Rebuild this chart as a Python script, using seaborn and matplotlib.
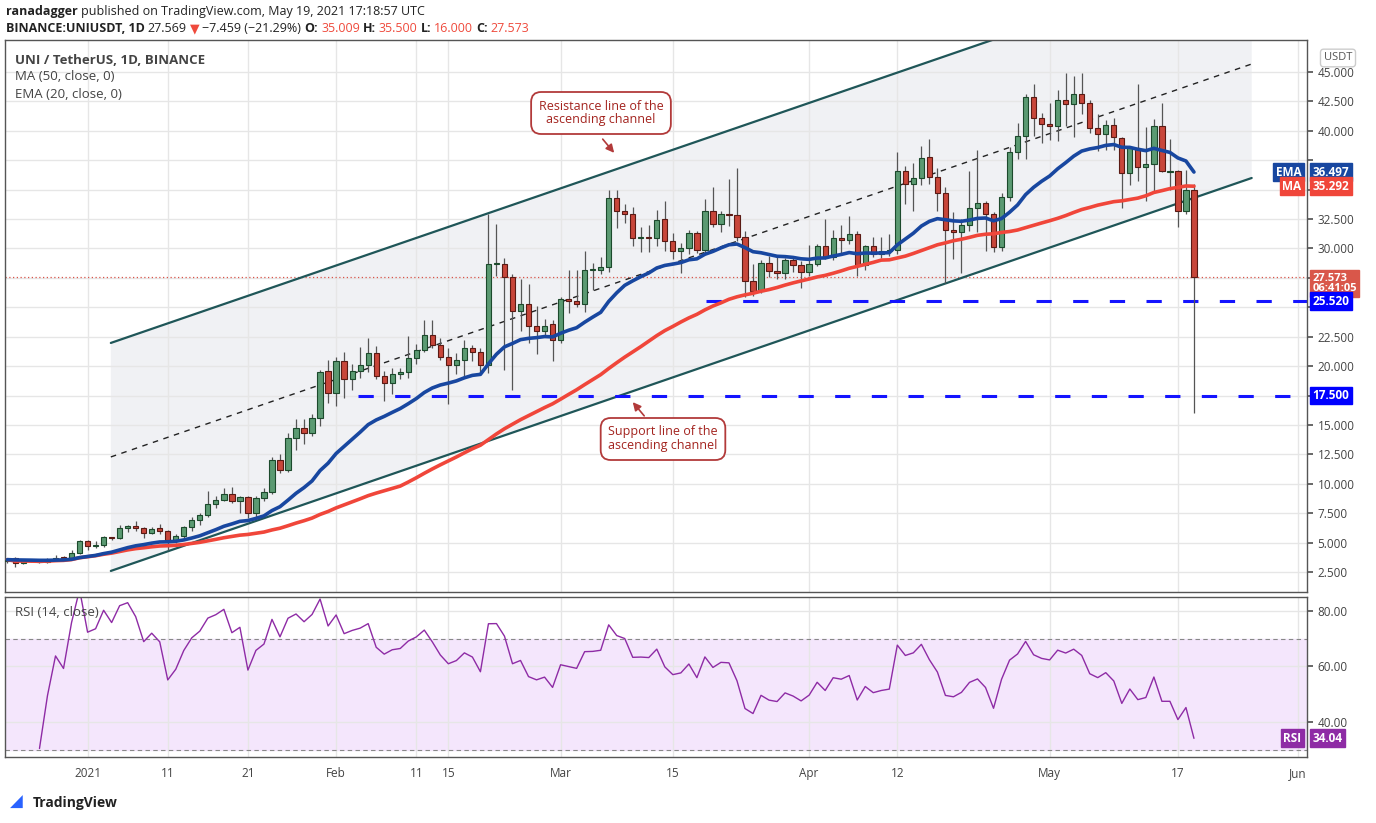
import numpy as np
import pandas as pd
import matplotlib
matplotlib.use("Agg")
import matplotlib.pyplot as plt
import seaborn as sns
from matplotlib.patches import Rectangle, Polygon

# daily candles, 22 Dec 2020 .. 19 May 2021
opens = [3.45, 3.7, 3.25, 3.5, 3.4, 3.35, 3.5, 3.75, 3.65, 4.1, 5.1, 4.7, 4.8, 5.45, 5.4, 6.2, 6.4, 6.2, 5.8, 6.2,
         6.0, 5.2, 5.55, 6.3, 6.95, 7.35, 8.3, 8.6, 9.1, 8.5, 8.9, 7.5, 8.8, 9.3, 12.0, 11.2, 13.9, 14.7, 14.3, 15.6,
         19.6, 17.7, 20.4, 18.9, 19.6, 20.1, 21.1, 19.2, 18.6, 19.3, 19.5, 20.7, 21.4, 22.65, 21.8, 20.8, 20.1, 20.5, 21.5, 21.2,
         20.1, 28.7, 28.7, 27.6, 24.7, 25.3, 23.4, 23.0, 23.6, 22.2, 25.7, 25.5, 25.3, 28.2, 28.2, 28.4, 34.3, 33.2, 32.9, 30.85,
         31.0, 30.9, 32.5, 30.6, 29.75, 30.0, 31.3, 29.9, 33.2, 32.05, 32.9, 32.85, 31.0, 27.2, 26.4, 28.8, 28.1, 27.9, 29.0, 28.6,
         28.0, 28.65, 30.2, 29.3, 30.9, 30.75, 31.2, 28.6, 30.2, 29.5, 29.75, 29.9, 36.6, 35.5, 36.0, 37.75, 36.1, 34.7, 31.6, 31.4,
         32.0, 33.4, 33.9, 32.9, 30.1, 34.35, 38.17, 39.6, 42.9, 41.1, 40.6, 40.4, 42.6, 42.25, 43.1, 42.4, 40.2, 39.7, 40.5, 39.4,
         36.4, 38.5, 36.9, 37.2, 40.4, 36.5, 36.6, 33.2, 35.009]
highs = [3.6, 3.75, 3.5, 3.6, 3.5, 3.7, 3.95, 3.85, 4.4, 5.2, 5.2, 5.1, 5.6, 5.5, 6.5, 6.5, 6.8, 6.3, 6.3, 6.6,
         6.1, 5.7, 6.4, 7.2, 7.5, 9.4, 9.0, 9.6, 9.7, 9.0, 9.0, 9.0, 9.6, 12.3, 12.5, 14.3, 15.5, 15.5, 15.9, 19.7,
         20.5, 20.8, 21.2, 20.2, 21.6, 22.4, 21.7, 19.6, 19.8, 19.8, 22.6, 21.9, 23.9, 23.9, 22.4, 21.5, 21.1, 22.2, 21.8, 21.5,
         32.9, 32.1, 29.2, 27.8, 27.4, 26.95, 25.1, 24.0, 23.9, 25.9, 28.2, 28.2, 29.8, 28.8, 29.3, 35.0, 35.0, 33.8, 33.5, 31.8,
         32.0, 33.3, 34.0, 31.3, 30.5, 31.6, 31.5, 34.2, 35.2, 33.2, 35.9, 36.8, 31.5, 28.7, 29.0, 29.4, 29.4, 29.2, 29.2, 28.9,
         30.3, 30.4, 32.5, 31.6, 32.0, 32.8, 31.5, 30.3, 31.0, 31.0, 31.2, 38.2, 37.0, 37.3, 38.7, 39.3, 36.8, 35.2, 33.1, 32.5,
         36.6, 38.4, 34.0, 33.1, 34.7, 38.6, 40.7, 43.1, 44.0, 41.5, 42.4, 43.5, 44.9, 44.7, 44.9, 42.6, 41.4, 40.9, 41.1, 39.5,
         38.6, 44.0, 40.3, 41.0, 42.4, 39.3, 36.7, 36.7, 35.5]
lows = [3.3, 2.95, 3.15, 3.35, 3.3, 3.3, 3.45, 3.55, 3.6, 4.0, 4.4, 4.5, 4.6, 5.2, 5.3, 5.9, 6.0, 5.4, 5.7, 5.7,
        4.4, 5.0, 5.3, 6.0, 6.5, 7.2, 7.9, 8.5, 8.4, 7.5, 7.1, 7.2, 8.5, 9.1, 10.9, 11.0, 12.9, 13.4, 14.1, 14.9,
        16.9, 16.6, 17.3, 18.0, 19.0, 19.5, 18.9, 17.0, 17.6, 18.9, 19.0, 20.2, 21.2, 21.5, 20.5, 16.8, 19.3, 19.1, 20.4, 19.4,
        19.4, 27.7, 19.7, 18.0, 23.0, 22.0, 21.0, 22.5, 20.4, 22.0, 24.5, 25.0, 24.6, 26.5, 27.8, 28.0, 31.7, 32.2, 30.2, 29.7,
        29.7, 30.2, 29.8, 29.1, 27.9, 29.5, 29.6, 29.5, 31.8, 31.4, 31.9, 30.6, 25.9, 26.0, 26.2, 27.6, 27.4, 27.4, 28.0, 26.6,
        27.7, 28.5, 29.1, 29.0, 29.6, 30.4, 27.7, 28.2, 29.3, 29.2, 29.4, 29.5, 33.8, 33.2, 35.4, 35.5, 33.2, 27.1, 29.1, 27.9,
        31.5, 31.4, 29.8, 29.7, 29.8, 34.0, 37.6, 37.6, 39.6, 39.0, 39.2, 39.1, 40.4, 39.5, 41.4, 39.8, 38.3, 38.4, 38.4, 33.4,
        35.4, 35.7, 34.0, 34.7, 36.5, 35.0, 31.8, 32.9, 16.0]
closes = [3.55, 3.3, 3.45, 3.4, 3.35, 3.5, 3.7, 3.65, 4.1, 5.1, 4.7, 4.8, 5.5, 5.35, 6.2, 6.4, 6.2, 5.8, 6.15, 6.0,
          5.2, 5.55, 6.3, 6.95, 7.35, 8.3, 8.6, 9.1, 8.5, 8.9, 7.5, 8.8, 9.3, 12.0, 11.2, 13.9, 14.7, 14.3, 15.6, 19.5,
          17.7, 20.4, 18.9, 19.6, 20.1, 21.1, 19.2, 18.6, 19.3, 19.5, 20.7, 21.4, 22.65, 21.8, 20.8, 20.1, 20.5, 21.5, 21.2, 20.1,
          28.7, 28.75, 27.6, 24.7, 25.3, 23.4, 23.0, 23.4, 22.2, 25.7, 25.5, 25.3, 28.2, 28.25, 28.45, 34.3, 33.2, 32.9, 30.9, 30.95,
          30.9, 32.4, 30.6, 29.75, 30.0, 31.3, 29.9, 33.2, 32.05, 32.9, 32.85, 30.95, 27.2, 26.4, 28.8, 28.1, 27.9, 29.0, 28.6, 28.0,
          28.65, 30.2, 29.3, 30.9, 30.75, 31.2, 28.6, 30.2, 29.5, 29.75, 29.9, 36.6, 35.5, 36.0, 37.7, 36.1, 34.7, 31.6, 31.4, 32.0,
          33.4, 33.9, 32.9, 30.1, 34.35, 38.17, 39.6, 42.9, 41.1, 40.6, 40.4, 42.6, 42.25, 43.1, 42.4, 40.2, 39.7, 40.5, 39.5, 36.4,
          38.5, 36.9, 37.2, 40.4, 36.6, 36.6, 33.2, 35.0, 27.573]

dates = pd.date_range("2020-12-22", periods=len(closes), freq="D")
tick_dates = ["2021-01-01", "2021-01-11", "2021-01-21", "2021-02-01", "2021-02-11", "2021-02-15", "2021-03-01",
              "2021-03-15", "2021-04-01", "2021-04-12", "2021-05-01", "2021-05-17", "2021-06-01"]
tick_labels = ["2021", "11", "21", "Feb", "11", "15", "Mar", "15", "Apr", "12", "May", "17", "Jun"]

# channel drawing (bar index, price)
channel_x = [12.9, 155.2]
resistance_y = [21.97, 55.3]
support_y = [2.59, 35.99]
middle_y = [12.28, 45.68]
level_prices = [25.52, 17.5]
level_start = [87.1, 43.7]

df = pd.DataFrame({"date": dates, "open": opens, "high": highs, "low": lows, "close": closes})
df["i"] = np.arange(len(df))
df["ema"] = df["close"].ewm(span=20, adjust=False).mean()
df["ma"] = df["close"].rolling(50, min_periods=1).mean()
d = df["close"].diff()
gain = d.clip(lower=0).ewm(alpha=1 / 14, adjust=True, min_periods=4).mean()
loss = (-d.clip(upper=0)).ewm(alpha=1 / 14, adjust=True, min_periods=4).mean()
df["rsi"] = 100 - 100 / (1 + gain / loss)

sns.set_theme(style="white")
plt.rcParams["font.family"] = ["Open Sans", "DejaVu Sans"]

W, H = 1376, 823
fig = plt.figure(figsize=(W / 100, H / 100), dpi=100)
fig.patch.set_facecolor("white")
L, R = 5 / W, 1307 / W
ax = fig.add_axes([L, 1 - 592 / H, R - L, (592 - 40) / H])
ax2 = fig.add_axes([L, 1 - 757 / H, R - L, (757 - 597) / H], sharex=ax)

xmax = 162.1
ax.set_xlim(-0.3, xmax)
ax.set_ylim(0.8, 47.72)
ax2.set_ylim(27.3, 85.1)

tick_pos = [(pd.Timestamp(t) - dates[0]).days for t in tick_dates]
grid_c = "#e6e6e6"
for a in (ax, ax2):
    for s in a.spines.values():
        s.set_color("#555555")
        s.set_linewidth(1)
    a.yaxis.tick_right()
    a.tick_params(axis="y", direction="out", length=4, colors="#555555", labelsize=8.5, labelcolor="#444444")
    a.set_xticks(tick_pos)
    a.grid(True, color=grid_c, linewidth=1)
    a.set_axisbelow(True)
ax.tick_params(axis="x", length=0, labelbottom=False)
ax2.set_xticklabels(tick_labels)
ax2.tick_params(axis="x", length=4, colors="#555555", labelsize=8.5, labelcolor="#444444", pad=3)

# tick labels hidden behind the price tags on the right are left blank
price_ticks = np.arange(2.5, 45.01, 2.5)
hidden = [37.5, 35.0, 27.5, 25.0, 17.5]
ax.set_yticks(price_ticks)
ax.set_yticklabels(["" if any(abs(v - h) < 1e-6 for h in hidden) else f"{v:.3f}" for v in price_ticks])
ax2.set_yticks([40, 60, 80])
ax2.set_yticklabels(["40.00", "60.00", "80.00"])

# channel area and lines
poly = Polygon([(channel_x[0], resistance_y[0]), (channel_x[1], resistance_y[1]),
                (channel_x[1], support_y[1]), (channel_x[0], support_y[0])],
               closed=True, facecolor="#f0f1f4", edgecolor="none", zorder=0.5)
ax.add_patch(poly)
teal = "#1f5658"
ax.plot(channel_x, resistance_y, color=teal, lw=1.6, zorder=2)
ax.plot(channel_x, support_y, color=teal, lw=1.6, zorder=2)
ax.plot(channel_x, middle_y, color="#222222", lw=1, ls=(0, (4, 4)), zorder=2)
for p, s in zip(level_prices, level_start):
    ax.plot([s, xmax], [p, p], color="#1414ff", lw=2.2, ls=(0, (5, 7)), zorder=2)
ax.axhline(closes[-1], color="#d9544a", lw=0.9, ls=(0, (1, 2)), zorder=1.5)

# candles
up_fill, up_edge = "#5b9a72", "#1c4a2c"
dn_fill, dn_edge = "#c8463a", "#5a1a14"
for r in df.itertuples():
    up = r.close >= r.open
    ax.vlines(r.i, r.low, r.high, color="#555555", lw=0.9, zorder=3)
    lo, hi = min(r.open, r.close), max(r.open, r.close)
    ax.add_patch(Rectangle((r.i - 0.33, lo), 0.66, max(hi - lo, 0.08),
                           facecolor=up_fill if up else dn_fill, edgecolor=up_edge if up else dn_edge,
                           lw=0.8, zorder=4))

sns.lineplot(x=df["i"], y=df["ma"], ax=ax, color="#f0463a", lw=2.6, zorder=5)
sns.lineplot(x=df["i"], y=df["ema"], ax=ax, color="#1847a0", lw=2.6, zorder=5)
ax.set_xlabel("")
ax.set_ylabel("")

# RSI pane
ax2.axhspan(30, 70, color="#f4e6fc", zorder=0)
ax2.axhline(70, color="#888888", lw=0.8, ls=(0, (4, 3)))
ax2.axhline(30, color="#888888", lw=0.8, ls=(0, (4, 3)))
sns.lineplot(x=df["i"], y=df["rsi"], ax=ax2, color="#8e2ba5", lw=1)
ax2.set_xlabel("")
ax2.set_ylabel("")


def tag(a, y, text, color, ha="left", fs=8.5):
    a.annotate(text, xy=(1.0, y), xycoords=("axes fraction", "data"), xytext=(4 if ha == "left" else -4, 0),
               textcoords="offset points", ha=ha, va="center", fontsize=fs, color="white", fontweight="bold",
               linespacing=0.95, bbox=dict(boxstyle="square,pad=0.2", fc=color, ec=color), zorder=10,
               annotation_clip=False)


tag(ax, df["ema"].iloc[-1], f"{df['ema'].iloc[-1]:.3f}", "#1847a0")
tag(ax, df["ema"].iloc[-1], "EMA", "#1847a0", ha="right")
tag(ax, df["ma"].iloc[-1], f"{df['ma'].iloc[-1]:.3f}", "#f0463a")
tag(ax, df["ma"].iloc[-1], "MA", "#f0463a", ha="right")
tag(ax, closes[-1] - 0.55, f"{closes[-1]:.3f}\n06:41:05", "#d9574a", fs=8)
for p in level_prices:
    tag(ax, p, f"{p:.3f}", "#0000ff")
tag(ax2, df["rsi"].iloc[-1], f"{df['rsi'].iloc[-1]:.2f}", "#8e2ba5")
tag(ax2, df["rsi"].iloc[-1], "RSI", "#8e2ba5", ha="right")
fig.text(1338 / W, 1 - 58 / H, "USDT", fontsize=8, color="#555555", ha="center", va="center",
         bbox=dict(boxstyle="round,pad=0.3", fc="white", ec="#cccccc"))

# callouts
box = dict(boxstyle="round,pad=0.6,rounding_size=0.8", fc="white", ec="#b23a3a", lw=1.3)
fig.text(601 / W, 1 - 113 / H, "Resistance line of the\nascending channel", fontsize=9, color="#a3231e",
         ha="center", va="center", linespacing=1.1, bbox=box, zorder=20)
ax.annotate("", xy=((615 - 7) / 8.01, 45 - (155 - 72) / 11.765), xytext=((600 - 7) / 8.01, 45 - (137 - 72) / 11.765),
            arrowprops=dict(arrowstyle="-|>", color="#b23a3a", lw=1.2), zorder=20)
fig.text(663 / W, 1 - 439 / H, "Support line of the\nascending channel", fontsize=9, color="#a3231e",
         ha="center", va="center", linespacing=1.1, bbox=box, zorder=20)
ax.annotate("", xy=((630 - 7) / 8.01, 45 - (400 - 72) / 11.765), xytext=((645 - 7) / 8.01, 45 - (418 - 72) / 11.765),
            arrowprops=dict(arrowstyle="-|>", color="#b23a3a", lw=1.2), zorder=20)

# header: pieces placed one after another
renderer = fig.canvas.get_renderer()


def run(y, x0, pieces, fs=9):
    x = x0
    for txt, col, bold in pieces:
        t = fig.text(x / W, 1 - y / H, txt, fontsize=fs, color=col, va="center",
                     fontweight="bold" if bold else "normal")
        x = t.get_window_extent(renderer).x1 + 3


red = "#ef4a3c"
dark = "#222222"
run(12, 6, [("ranadagger", dark, True), ("published on TradingView.com, May 19, 2021 17:18:57 UTC", dark, False)])
run(29, 6, [("BINANCE:UNIUSDT, 1D", dark, True), ("27.569", dark, False), ("▼", red, False),
            ("−7.459 (−21.29%)", dark, False), ("O:", dark, True), ("35.009", red, False), ("H:", dark, True),
            ("35.500", red, False), ("L:", dark, True), ("16.000", red, False), ("C:", dark, True), ("27.573", red, False)])
fig.text(15 / W, 1 - 60 / H, "UNI / TetherUS, 1D, BINANCE", fontsize=9.5, fontweight="bold", color="#444444", va="center")
fig.text(15 / W, 1 - 77 / H, "MA (50, close, 0)", fontsize=9.5, color="#444444", va="center")
fig.text(15 / W, 1 - 94 / H, "EMA (20, close, 0)", fontsize=9.5, color="#444444", va="center")
fig.text(15 / W, 1 - 612 / H, "RSI (14, close)", fontsize=9.5, color="#444444", va="center")
fig.text(10 / W, 1 - 803 / H, "◢", fontsize=12, color="#2962ff", va="center")
fig.text(33 / W, 1 - 803 / H, "TradingView", fontsize=10, color="#222222", fontweight="bold", va="center")

plt.savefig("out.png", dpi=100)
